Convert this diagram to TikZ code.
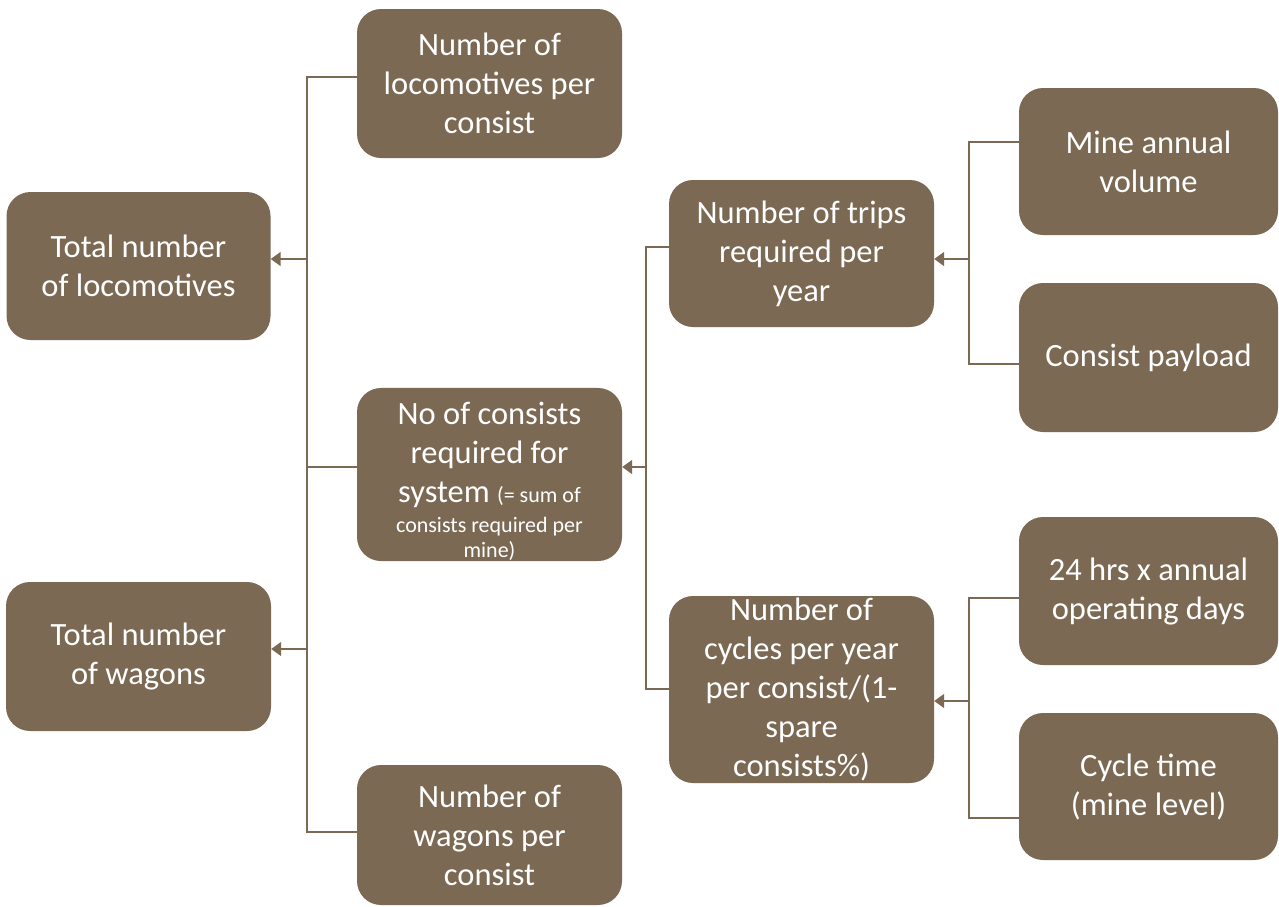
\documentclass[tikz,border=0pt]{standalone}
\usepackage{fontspec}
\setmainfont{Carlito}
\usetikzlibrary{arrows.meta}
\definecolor{brn}{HTML}{7B6954}
\newcommand{\smalltxt}{\fontsize{22}{26}\selectfont}
\begin{document}
\begin{tikzpicture}[x=1pt,y=-1pt,
  box/.style={fill=brn, rounded corners=24pt, text=white, align=center,
    font=\fontsize{32.5}{39}\selectfont, inner sep=0pt},
  conn/.style={draw=brn, line width=1.6pt},
  arr/.style={conn, -{Triangle[length=10pt,width=14pt]}}]
\useasboundingbox (0,0) rectangle (1279,906);
% left column
\node[box, minimum width=264pt, minimum height=148pt] (tl) at (138.5,266) {Total number\\of locomotives};
\node[box, minimum width=265pt, minimum height=149pt] (tw) at (138.5,656.5) {Total number\\of wagons};
% second column
\node[box, minimum width=265pt, minimum height=149pt] (lpc) at (489.5,83.5) {Number of\\locomotives per\\consist};
\node[box, minimum width=265pt, minimum height=173pt] (nc) at (489.5,474.5) {\rule{0pt}{37pt}No of consists\\required for\\system {\smalltxt (= sum of}\\[-9pt]{\smalltxt consists required per}\\[-14pt]{\smalltxt mine)}};
\node[box, minimum width=265pt, minimum height=140pt] (wpc) at (489.5,835) {Number of\\wagons per\\consist};
% third column
\node[box, minimum width=265pt, minimum height=147pt] (trips) at (801.5,253.5) {Number of trips\\required per\\year};
\node[box, minimum width=265pt, minimum height=187pt] (cyc) at (801.5,689.5) {Number of\\cycles per year\\per consist/(1-\\spare\\consists\%)};
% right column
\node[box, minimum width=259pt, minimum height=147pt] (mav) at (1148.5,161.5) {Mine annual\\volume};
\node[box, minimum width=259pt, minimum height=149pt] (cp) at (1148.5,357.5) {Consist payload};
\node[box, minimum width=259pt, minimum height=148pt] (hrs) at (1148.5,591) {24 hrs x annual\\operating days};
\node[box, minimum width=259pt, minimum height=147pt] (ct) at (1148.5,786.5) {Cycle time\\(mine level)};
% left bracket
\coordinate (Lt) at (307,77);
\coordinate (Lm) at (307,467);
\coordinate (Lb) at (307,832);
\coordinate (La) at (307,259);
\coordinate (Lw) at (307,649);
\draw[conn] (Lt -| lpc.west) -- (Lt) -- (Lb) -- (Lb -| wpc.west);
\draw[conn] (Lm) -- (Lm -| nc.west);
\draw[arr] (La) -- (La -| tl.east);
\draw[arr] (Lw) -- (Lw -| tw.east);
% middle bracket
\coordinate (Mt) at (646,247);
\coordinate (Mm) at (646,467);
\coordinate (Mb) at (646,689);
\draw[conn] (Mt -| trips.west) -- (Mt) -- (Mb) -- (Mb -| cyc.west);
\draw[arr] (Mm) -- (Mm -| nc.east);
% right top bracket
\coordinate (Rt) at (969,142);
\coordinate (Rm) at (969,259);
\coordinate (Rb) at (969,364);
\draw[conn] (Rt -| mav.west) -- (Rt) -- (Rb) -- (Rb -| cp.west);
\draw[arr] (Rm) -- (Rm -| trips.east);
% right bottom bracket
\coordinate (St) at (969,598);
\coordinate (Sm) at (969,701);
\coordinate (Sb) at (969,818);
\draw[conn] (St -| hrs.west) -- (St) -- (Sb) -- (Sb -| ct.west);
\draw[arr] (Sm) -- (Sm -| cyc.east);
\end{tikzpicture}
\end{document}
